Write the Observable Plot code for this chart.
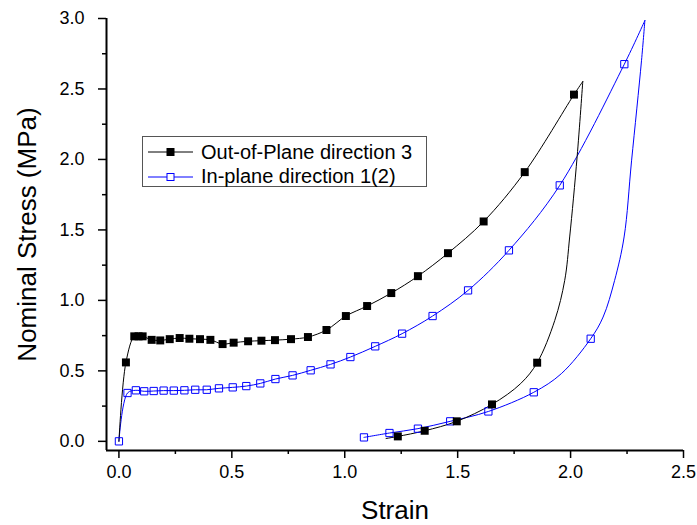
<!DOCTYPE html>
<html><head><meta charset="utf-8">
<script src="https://cdn.jsdelivr.net/npm/d3@7"></script>
<script src="https://cdn.jsdelivr.net/npm/@observablehq/plot@0.6"></script>
<style>
body{margin:0;background:#fff;}
#wrap{position:relative;width:697px;height:525px;font-family:"Liberation Sans",Arial,sans-serif;}
#legend{position:absolute;left:142px;top:136px;width:283px;height:49px;border:1px solid #555;background:#fff;}
.row{position:absolute;left:0;height:24px;display:flex;align-items:center;font-size:20px;color:#000;white-space:nowrap;}
.row svg{margin-left:5px;margin-right:8px;}
</style></head><body><div id="wrap"></div>
<script>
// ---- data ----
const seriesNames = ["Out-of-Plane direction 3", "In-plane direction 1(2)"];
const seriesColors = ["#000000", "#0000ff"];

// Out-of-plane: loading branch
const outLoadStrain = [0, 0.031, 0.068, 0.087, 0.105, 0.145, 0.183, 0.225, 0.269, 0.312, 0.359, 0.405, 0.459, 0.508, 0.572, 0.631, 0.691, 0.762, 0.837, 0.919, 1.005, 1.099, 1.206, 1.324, 1.457, 1.615, 1.797, 2.015, 2.054];
const outLoadStress = [0, 0.56, 0.745, 0.745, 0.745, 0.72, 0.716, 0.725, 0.733, 0.728, 0.725, 0.72, 0.69, 0.70, 0.71, 0.714, 0.718, 0.725, 0.74, 0.79, 0.889, 0.96, 1.052, 1.172, 1.335, 1.56, 1.91, 2.46, 2.553];
const outLoadMark   = [0, 1, 1, 1, 1, 1, 1, 1, 1, 1, 1, 1, 1, 1, 1, 1, 1, 1, 1, 1, 1, 1, 1, 1, 1, 1, 1, 1, 0];
// Out-of-plane: unloading branch
const outUnloadStrain = [2.054, 2.029, 1.996, 1.974, 1.93, 1.852, 1.779, 1.652, 1.496, 1.354, 1.235, 1.183];
const outUnloadStress = [2.553, 2.02, 1.45, 1.142, 0.858, 0.558, 0.41, 0.262, 0.142, 0.075, 0.035, 0.02];
const outUnloadMark   = [0, 0, 0, 0, 0, 1, 0, 1, 1, 1, 1, 0];

// In-plane: loading branch
const inLoadStrain = [0, 0.038, 0.075, 0.112, 0.154, 0.198, 0.243, 0.29, 0.338, 0.389, 0.443, 0.504, 0.564, 0.626, 0.693, 0.769, 0.849, 0.937, 1.025, 1.135, 1.254, 1.389, 1.546, 1.727, 1.952, 2.238, 2.329];
const inLoadStress = [0, 0.343, 0.362, 0.355, 0.357, 0.36, 0.36, 0.362, 0.366, 0.366, 0.376, 0.383, 0.392, 0.411, 0.442, 0.468, 0.504, 0.546, 0.598, 0.674, 0.764, 0.889, 1.071, 1.355, 1.816, 2.676, 2.986];
const inLoadMark   = [1, 1, 1, 1, 1, 1, 1, 1, 1, 1, 1, 1, 1, 1, 1, 1, 1, 1, 1, 1, 1, 1, 1, 1, 1, 1, 0];
// In-plane: unloading branch
const inUnloadStrain = [2.329, 2.314, 2.27, 2.237, 2.195, 2.144, 2.089, 1.959, 1.837, 1.636, 1.467, 1.324, 1.198, 1.085];
const inUnloadStress = [2.986, 2.70, 1.99, 1.45, 1.142, 0.882, 0.728, 0.48, 0.348, 0.212, 0.142, 0.09, 0.059, 0.028];
const inUnloadMark   = [0, 0, 0, 0, 0, 0, 1, 0, 1, 1, 1, 1, 1, 1];

const xMajor = [0, 0.5, 1.0, 1.5, 2.0, 2.5];
const xMinor = [0.25, 0.75, 1.25, 1.75, 2.25];
const yMajor = [0, 0.5, 1.0, 1.5, 2.0, 2.5, 3.0];
const yMinor = [0.25, 0.75, 1.25, 1.75, 2.25, 2.75];
const xDomain = [-0.055, 2.5];
const yDomain = [-0.065, 3.0];
const xTitle = "Strain";
const yTitle = "Nominal Stress (MPa)";

// ---- build ----
function branch(xs, ys, ms) { return xs.map((x, i) => ({strain: x, stress: ys[i], mark: ms[i]})); }
const outLoad = branch(outLoadStrain, outLoadStress, outLoadMark);
const outUnload = branch(outUnloadStrain, outUnloadStress, outUnloadMark);
const inLoad = branch(inLoadStrain, inLoadStress, inLoadMark);
const inUnload = branch(inUnloadStrain, inUnloadStress, inUnloadMark);

const lineOpts = (c) => ({x: "strain", y: "stress", stroke: c, strokeWidth: 1, curve: "catmull-rom"});
const fmt = d3.format(".1f");

const chart = Plot.plot({
  width: 697, height: 525,
  marginLeft: 106, marginRight: 14, marginTop: 18, marginBottom: 75,
  style: {fontFamily: "'Liberation Sans', Arial, sans-serif", fontSize: "18px", background: "white", color: "black", overflow: "visible"},
  x: {domain: xDomain},
  y: {domain: yDomain},
  marks: [
    Plot.line(inLoad, lineOpts(seriesColors[1])),
    Plot.line(inUnload, lineOpts(seriesColors[1])),
    Plot.line(outLoad, lineOpts(seriesColors[0])),
    Plot.line(outUnload, lineOpts(seriesColors[0])),
    Plot.dot([...inLoad, ...inUnload].filter(d => d.mark), {x: "strain", y: "stress", symbol: "square", r: 4.1, stroke: seriesColors[1], fill: "none", strokeWidth: 1}),
    Plot.dot([...outLoad, ...outUnload].filter(d => d.mark), {x: "strain", y: "stress", symbol: "square", r: 4.5, fill: seriesColors[0], stroke: "none"}),
    Plot.ruleX([xDomain[0]], {stroke: "black", strokeWidth: 2}),
    Plot.ruleY([yDomain[0]], {stroke: "black", strokeWidth: 2}),
    Plot.axisX({ticks: xMajor, tickSize: 8, tickPadding: 7, tickFormat: fmt, fontSize: 18, strokeWidth: 1.5, label: null}),
    Plot.axisX({ticks: xMinor, tickSize: 4, tickFormat: () => "", strokeWidth: 1.5, label: null}),
    Plot.axisY({ticks: yMajor, tickSize: 8, tickPadding: 14, tickFormat: fmt, fontSize: 18, strokeWidth: 1.5, label: null}),
    Plot.axisY({ticks: yMinor, tickSize: 4, tickFormat: () => "", strokeWidth: 1.5, label: null}),
    Plot.text([xTitle], {frameAnchor: "bottom", textAnchor: "middle", dy: 68, lineAnchor: "bottom", fontSize: 26, fill: "black"}),
    Plot.text([yTitle], {frameAnchor: "left", textAnchor: "middle", dx: -71, rotate: -90, lineAnchor: "bottom", fontSize: 26, fill: "black"})
  ]
});

const wrap = document.getElementById("wrap");
wrap.appendChild(chart);

// legend (inside plot area)
const legend = document.createElement("div");
legend.id = "legend";
seriesNames.forEach((name, i) => {
  const row = document.createElement("div");
  row.className = "row";
  row.style.top = (3 + i * 24.5) + "px";
  const filled = i === 0;
  row.innerHTML = `<svg width="45" height="12"><line x1="0" y1="6" x2="45" y2="6" stroke="${seriesColors[i]}" stroke-width="1"/>` +
    (filled ? `<rect x="18.5" y="2" width="8" height="8" fill="${seriesColors[i]}"/>`
            : `<rect x="19" y="2.5" width="7" height="7" fill="white" stroke="${seriesColors[i]}" stroke-width="1"/>`) +
    `</svg><span>${name}</span>`;
  legend.appendChild(row);
});
wrap.appendChild(legend);
</script>
</body></html>
